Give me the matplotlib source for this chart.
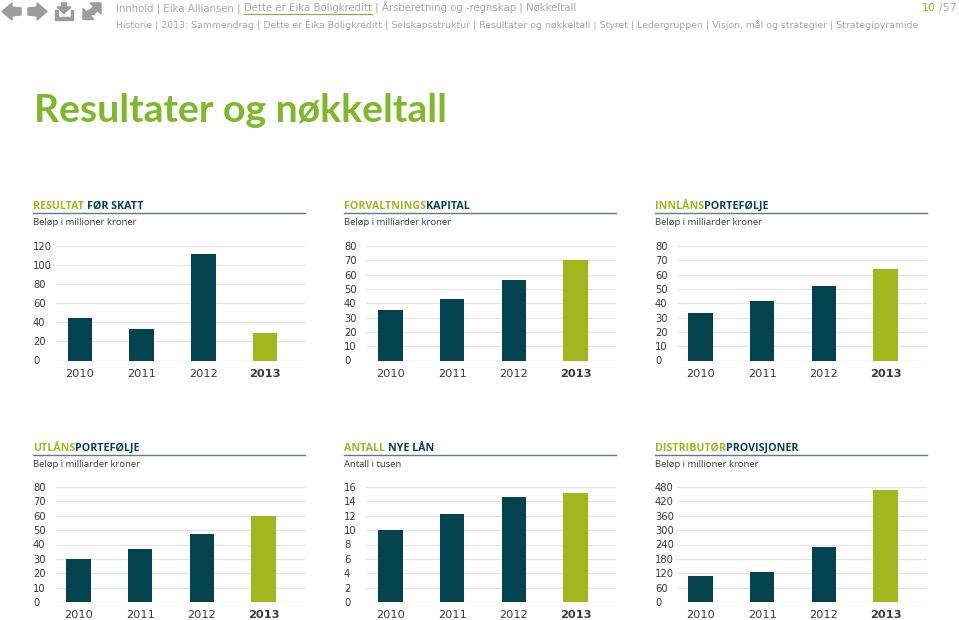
import matplotlib
matplotlib.use("Agg")
import matplotlib.pyplot as plt
from matplotlib.patches import Polygon

W, H = 959, 620
DARK = "#03434f"
LIME = "#a0b81e"
GREEN = "#7db928"
GREY = "#a9a9a9"
GRID = "#e4e6e4"
TEXT = "#3a3a3a"

years = ["2010", "2011", "2012", "2013"]

resultat = [45, 33, 112, 29]
forvaltning = [35, 43, 56, 70]
innlan = [33, 41.5, 52, 64]
utlan = [30, 37, 47, 60]
nye_lan = [10, 12.2, 14.6, 15.2]
provisjon = [108, 124, 228, 466]

ticks_120 = [0, 20, 40, 60, 80, 100, 120]
ticks_80 = [0, 10, 20, 30, 40, 50, 60, 70, 80]
ticks_16 = [0, 2, 4, 6, 8, 10, 12, 14, 16]
ticks_480 = [0, 60, 120, 180, 240, 300, 360, 420, 480]

menu1 = "Innhold | Eika Alliansen | "
menu1_link = "Dette er Eika Boligkreditt"
menu1_end = " | Årsberetning og -regnskap | Nøkkeltall"
menu2 = ("Historie | 2013: Sammendrag | Dette er Eika Boligkreditt | Selskapsstruktur | "
         "Resultater og nøkkeltall | Styret | Ledergruppen | Visjon, mål og strategier | Strategipyramide")

plt.rcParams["font.family"] = ["DejaVu Sans"]

fig = plt.figure(figsize=(W / 100, H / 100), dpi=100)
page = fig.add_axes([0, 0, 1, 1])
page.set_xlim(0, W)
page.set_ylim(H, 0)
page.axis("off")


def two_part(x, y, first, second, col1, col2, size):
    t = page.text(x, y, first, color=col1, fontsize=size, fontweight="bold", family="Open Sans", va="baseline")
    ext = t.get_window_extent(fig.canvas.get_renderer())
    page.text(x + ext.width, y, second, color=col2, fontsize=size, fontweight="bold", family="Open Sans", va="baseline")


def panel(left, right, top, bottom, bar_first, bar_step, vals, ticks, head1, head2, sub, label_x, head_y):
    ax = fig.add_axes([left / W, 1 - bottom / H, (right - left) / W, (bottom - top) / H])
    ax.patch.set_alpha(0)
    ax.bar(range(4), vals, width=24.5 / bar_step, color=[DARK, DARK, DARK, LIME], zorder=3)
    ax.set_xlim((left - bar_first) / bar_step, (right - bar_first) / bar_step)
    ax.set_ylim(0, ticks[-1])
    ax.set_yticks(ticks)
    ax.set_xticks(range(4))
    ax.set_xticklabels(years)
    ax.get_xticklabels()[3].set_fontweight("bold")
    ax.grid(axis="y", color=GRID, lw=1, zorder=0)
    ax.tick_params(length=0, labelsize=7.2, labelcolor=TEXT)
    ax.tick_params(axis="x", pad=6, labelsize=8.2)
    ax.tick_params(axis="y", pad=0)
    for lab in ax.get_yticklabels():
        lab.set_ha("left")
        lab.set_x((label_x - left) / (right - left))
    for s in ax.spines.values():
        s.set_visible(False)
    two_part(label_x, head_y + 3.6, head1, head2, LIME, DARK, 7.7)
    page.plot([label_x, right], [head_y + 8, head_y + 8], color="#5c7c80", lw=1)
    page.text(label_x, head_y + 20, sub, color=TEXT, fontsize=6.8, family="Open Sans", va="baseline")


panel(56, 305, 246, 360.5, 80, 61.7, resultat, ticks_120, "RESULTAT ", "FØR SKATT",
      "Beløp i millioner kroner", 33, 205)
panel(366, 616, 246, 360.5, 390.5, 61.7, forvaltning, ticks_80, "FORVALTNINGS", "KAPITAL",
      "Beløp i milliarder kroner", 344, 205)
panel(677, 927, 246, 360.5, 700.5, 61.7, innlan, ticks_80, "INNLÅNS", "PORTEFØLJE",
      "Beløp i milliarder kroner", 655, 205)
panel(56, 305, 487, 602, 78.5, 61.7, utlan, ticks_80, "UTLÅNS", "PORTEFØLJE",
      "Beløp i milliarder kroner", 33, 447)
panel(366, 616, 487, 602, 390.5, 61.7, nye_lan, ticks_16, "ANTALL ", "NYE LÅN",
      "Antall i tusen", 344, 447)
panel(677, 927, 487, 602, 700.5, 61.7, provisjon, ticks_480, "DISTRIBUTØR", "PROVISJONER",
      "Beløp i millioner kroner", 655, 447)

# page title and menus
page.text(34, 121.5, "Resultater og nøkkeltall", color=GREEN, fontsize=28.2, fontweight="bold",
          family="Lato", va="baseline")
renderer = fig.canvas.get_renderer()
t = page.text(116, 11, menu1, color=GREY, fontsize=7.3, va="baseline")
x = 116 + t.get_window_extent(renderer).width
t = page.text(x, 11, menu1_link, color=GREY, fontsize=7.3, va="baseline")
w = t.get_window_extent(renderer).width
page.plot([x, x + w], [14, 14], color=GREEN, lw=0.8)
page.text(x + w, 11, menu1_end, color=GREY, fontsize=7.3, va="baseline")
page.text(116, 28, menu2, color=GREY, fontsize=6.73, va="baseline")
page.text(922, 11, "10", color=LIME, fontsize=8, va="baseline")
page.text(939, 11, "/57", color=GREY, fontsize=8, va="baseline")

# toolbar icons
icon = "#9c9c9c"
page.add_patch(Polygon([[2, 11.5], [12, 3], [12, 7], [21, 8], [21, 15], [12, 16], [12, 20]], color=icon))
page.add_patch(Polygon([[47, 11.5], [37, 3], [37, 7], [28, 8], [28, 15], [37, 16], [37, 20]], color=icon))
page.add_patch(Polygon([[61.5, 3], [66.5, 3], [66.5, 7], [71, 7], [64, 13.5], [57, 7], [61.5, 7]], color=icon))
page.add_patch(Polygon([[55, 10], [57.5, 10], [57.5, 17], [70.5, 17], [70.5, 10], [73, 10], [73, 20], [55, 20]], color=icon))
page.add_patch(Polygon([[90, 3], [101, 3], [101, 14], [97.5, 10.5], [93.5, 14.5], [89.5, 10.5], [93.5, 6.5]], color=icon))
page.add_patch(Polygon([[83, 8.5], [86.5, 12], [88.5, 10], [92.5, 14], [90.5, 16], [94, 19.5], [83, 19.5]], color=icon))

fig.savefig("out.png", dpi=100)
